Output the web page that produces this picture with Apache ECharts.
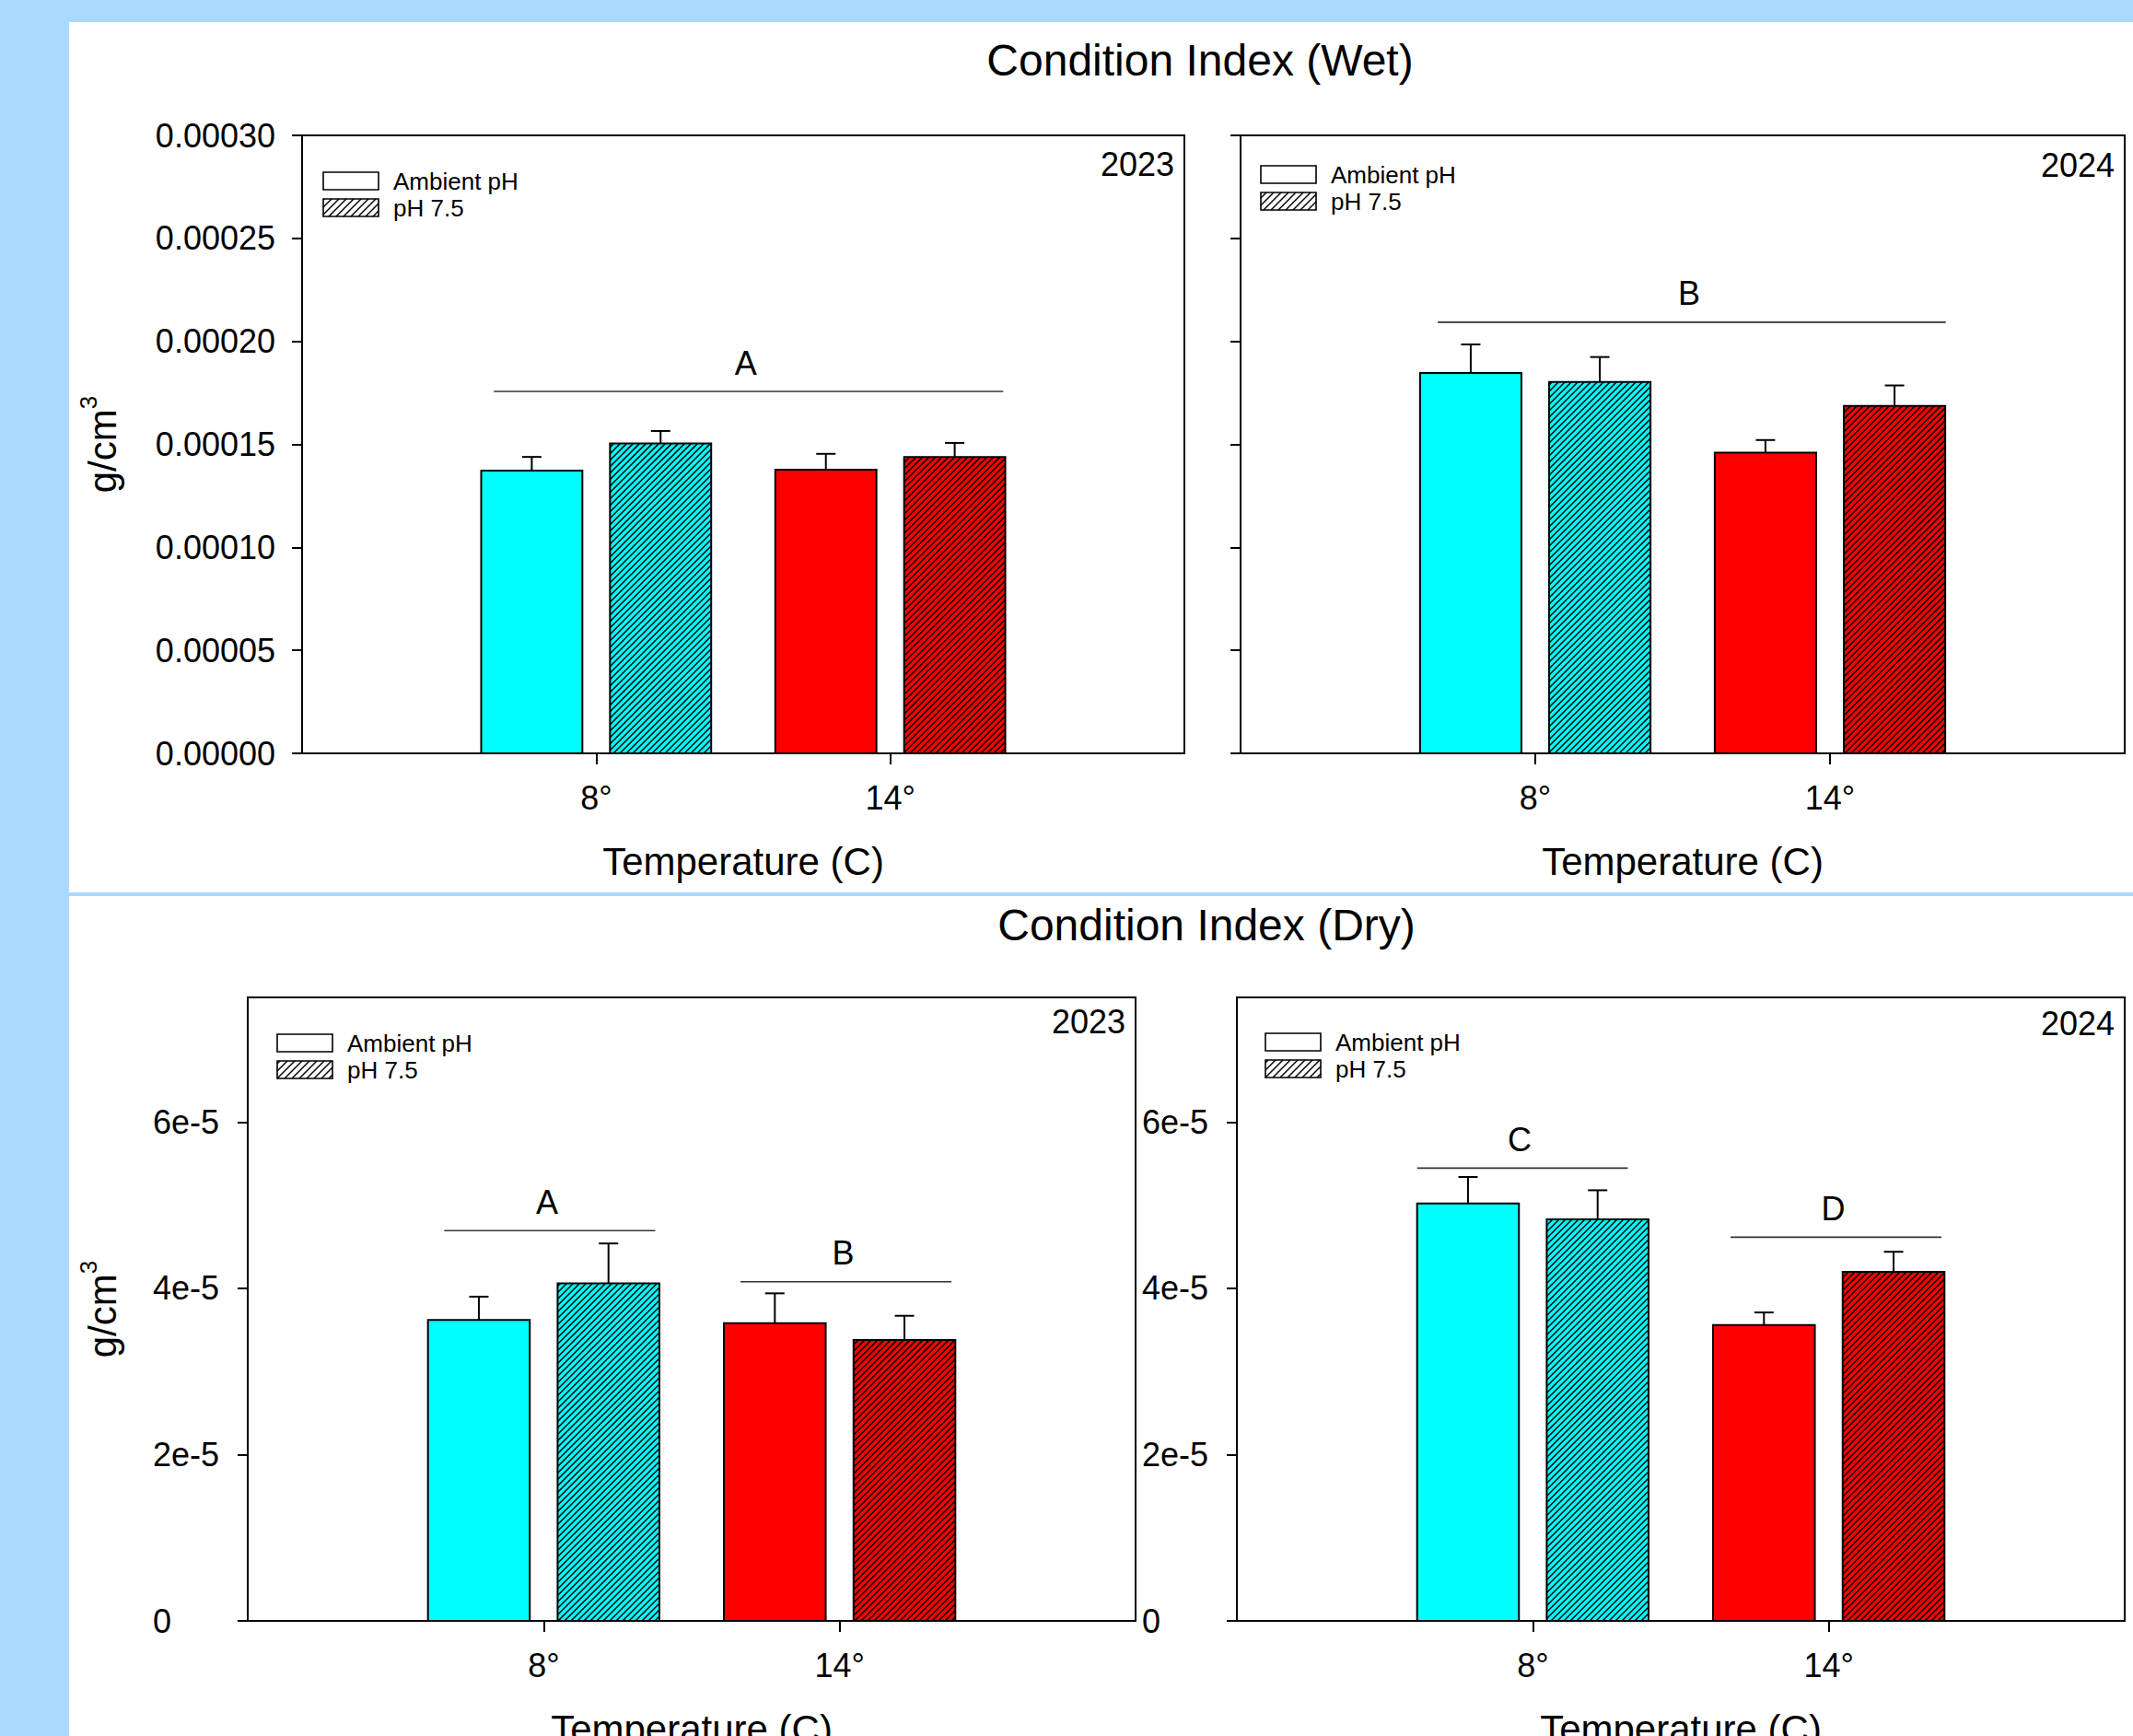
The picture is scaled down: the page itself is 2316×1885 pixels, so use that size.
<!DOCTYPE html>
<html>
<head>
<meta charset="utf-8">
<script src="https://cdn.jsdelivr.net/npm/echarts@6.0.0/dist/echarts.min.js"></script>
<style>
html, body { margin:0; padding:0; background:#a9d9fe; overflow:hidden; }
.panel { position:absolute; background:#ffffff; }
#chart { position:absolute; left:0; top:0; width:2316px; height:1885px; }
</style>
</head>
<body>
<div class="panel" style="left:75px;top:24px;width:2241px;height:945px;"></div>
<div class="panel" style="left:75px;top:973px;width:2241px;height:912px;"></div>
<div id="chart"></div>
<script>
// ---------------- DATA ----------------
const temperatures = ['8°', '14°'];
const treatments = ['Ambient pH', 'pH 7.5'];

const wetTicks = [0, 0.00005, 0.0001, 0.00015, 0.0002, 0.00025, 0.0003];
const wetTickLabels = ['0.00000', '0.00005', '0.00010', '0.00015', '0.00020', '0.00025', '0.00030'];
const dryTicks = [0, 0.00002, 0.00004, 0.00006];
const dryTickLabels = ['0', '2e-5', '4e-5', '6e-5'];

// order of each array: [8° Ambient pH, 8° pH 7.5, 14° Ambient pH, 14° pH 7.5]
const wet2023Mean = [0.0001373, 0.0001504, 0.0001377, 0.0001439];
const wet2023SE   = [0.0000066, 0.0000061, 0.0000077, 0.0000068];
const wet2024Mean = [0.0001847, 0.0001803, 0.0001460, 0.0001687];
const wet2024SE   = [0.0000138, 0.0000121, 0.0000061, 0.0000099];
const dry2023Mean = [0.0000362, 0.0000406, 0.0000358, 0.0000338];
const dry2023SE   = [0.0000028, 0.0000048, 0.0000036, 0.0000029];
const dry2024Mean = [0.0000502, 0.0000483, 0.0000356, 0.0000420];
const dry2024SE   = [0.0000032, 0.0000035, 0.0000015, 0.0000024];

// significance groups: letter, line value, span on the temperature axis (8° = 1, 14° = 2)
const wet2023Letters = ['A'];
const wet2023LetterY = [0.0001757];
const wet2023LetterSpan = [[0.652, 2.384]];
const wet2024Letters = ['B'];
const wet2024LetterY = [0.0002093];
const wet2024LetterSpan = [[0.669, 2.393]];
const dry2023Letters = ['A', 'B'];
const dry2023LetterY = [0.00004695, 0.0000408];
const dry2023LetterSpan = [[0.664, 1.377], [1.665, 2.378]];
const dry2024Letters = ['C', 'D'];
const dry2024LetterY = [0.00005446, 0.00004616];
const dry2024LetterSpan = [[0.609, 1.321], [1.668, 2.381]];

// ---------------- STYLE / LAYOUT ----------------
const FONT = '"Liberation Sans", Arial, Helvetica, sans-serif';
const tempColors = ['#00ffff', '#ff0000'];
const BAR_W_U = 0.344;   // bar width in axis units
const GAP_U = 0.094;     // gap between paired bars in axis units
const HATCH_P = 7;
const HATCH_W = 1.5;

function hatchSegs(x1, y1, x2, y2, P) {
  const segs = [];
  const kStart = Math.ceil((x1 + y1) / P), kEnd = Math.floor((x2 + y2) / P);
  for (let k = kStart; k <= kEnd; k++) {
    const c = k * P;
    const xs = Math.max(x1, c - y2), xe = Math.min(x2, c - y1);
    if (xe - xs > 0.3) segs.push([xs, c - xs, xe, c - xe]);
  }
  return segs;
}

function barRender(params, api) {
  const xCat = api.value(0), t = api.value(1), mean = api.value(2), se = api.value(3), ti = api.value(4);
  const unit = api.size([1, 0])[0];
  const bw = unit * BAR_W_U, gap = unit * GAP_U;
  const c0 = api.coord([xCat, 0]);
  const cx = c0[0] + (t === 0 ? -1 : 1) * (gap / 2 + bw / 2);
  const x1 = cx - bw / 2, x2 = cx + bw / 2;
  const yBase = c0[1];
  const yTop = api.coord([xCat, mean])[1];
  const yErr = api.coord([xCat, mean + se])[1];
  const children = [];
  children.push({type: 'rect', shape: {x: x1, y: yTop, width: bw, height: yBase - yTop},
    style: {fill: tempColors[ti], stroke: null}});
  if (t === 1) {
    hatchSegs(x1, yTop, x2, yBase, HATCH_P).forEach(s => children.push({
      type: 'line', shape: {x1: s[0], y1: s[1], x2: s[2], y2: s[3]},
      style: {stroke: '#000', lineWidth: HATCH_W, fill: null}}));
  }
  children.push({type: 'rect', shape: {x: x1, y: yTop, width: bw, height: yBase - yTop},
    style: {fill: 'none', stroke: '#000', lineWidth: 2}});
  children.push({type: 'line', shape: {x1: cx, y1: yTop, x2: cx, y2: yErr},
    style: {stroke: '#000', lineWidth: 2, fill: null}});
  children.push({type: 'line', shape: {x1: cx - 10.5, y1: yErr, x2: cx + 10.5, y2: yErr},
    style: {stroke: '#000', lineWidth: 2, fill: null}});
  return {type: 'group', children};
}

function makeLetterRender(letters) {
  return function (params, api) {
    const from = api.value(0), to = api.value(1), y = api.value(2);
    const p1 = api.coord([from, y]), p2 = api.coord([to, y]);
    return {type: 'group', children: [
      {type: 'line', shape: {x1: p1[0], y1: p1[1], x2: p2[0], y2: p2[1]},
        style: {stroke: '#333', lineWidth: 1.6, fill: null}},
      {type: 'text', x: (p1[0] + p2[0]) / 2 - 3, y: p1[1] - 31,
        style: {text: letters[params.dataIndex], font: '36px ' + FONT, fill: '#000',
          align: 'center', verticalAlign: 'middle', textAlign: 'center', textVerticalAlign: 'middle'}}
    ]};
  };
}

const panels = [
  {grid: {left: 328, top: 147, width: 958, height: 671}, yMax: 0.0003, ticks: wetTicks, tickLabels: wetTickLabels,
   showLabels: true, labelAlign: 'right', labelMargin: 29, showName: true, nameGap: 189, mean: wet2023Mean, se: wet2023SE,
   letters: wet2023Letters, letterY: wet2023LetterY, spans: wet2023LetterSpan, year: '2023', legend: [23, 40], yearDy: 31},
  {grid: {left: 1347, top: 147, width: 960, height: 671}, yMax: 0.0003, ticks: wetTicks, tickLabels: wetTickLabels,
   showLabels: false, labelAlign: 'right', labelMargin: 29, showName: false, nameGap: 189, mean: wet2024Mean, se: wet2024SE,
   letters: wet2024Letters, letterY: wet2024LetterY, spans: wet2024LetterSpan, year: '2024', legend: [22, 33], yearDy: 32},
  {grid: {left: 269, top: 1083, width: 964, height: 677}, yMax: 0.000075, ticks: dryTicks, tickLabels: dryTickLabels,
   showLabels: true, labelAlign: 'left', labelMargin: 103, showName: true, nameGap: 130, mean: dry2023Mean, se: dry2023SE,
   letters: dry2023Letters, letterY: dry2023LetterY, spans: dry2023LetterSpan, year: '2023', legend: [32, 40], yearDy: 26},
  {grid: {left: 1343, top: 1083, width: 964, height: 677}, yMax: 0.000075, ticks: dryTicks, tickLabels: dryTickLabels,
   showLabels: true, labelAlign: 'left', labelMargin: 103, showName: false, nameGap: 130, mean: dry2024Mean, se: dry2024SE,
   letters: dry2024Letters, letterY: dry2024LetterY, spans: dry2024LetterSpan, year: '2024', legend: [31, 39], yearDy: 28}
];

const grids = [], xAxes = [], yAxes = [], series = [], graphics = [];

graphics.push({type: 'text', x: 1303, y: 65, z: 10,
  style: {text: 'Condition Index (Wet)', font: '48px ' + FONT, fill: '#000',
    align: 'center', verticalAlign: 'middle', textAlign: 'center', textVerticalAlign: 'middle'}});
graphics.push({type: 'text', x: 1310, y: 1004, z: 10,
  style: {text: 'Condition Index (Dry)', font: '48px ' + FONT, fill: '#000',
    align: 'center', verticalAlign: 'middle', textAlign: 'center', textVerticalAlign: 'middle'}});

panels.forEach((p, i) => {
  const g = p.grid;
  grids.push({left: g.left, top: g.top, width: g.width, height: g.height, show: true,
    borderColor: '#000', borderWidth: 2, backgroundColor: 'transparent',
    containLabel: false, outerBoundsMode: 'none'});
  xAxes.push({
    gridIndex: i, type: 'value', min: 0, max: 3, interval: 1,
    axisLine: {show: true, onZero: false, lineStyle: {color: '#000', width: 2}},
    axisTick: {show: true, length: 12, customValues: [1, 2], lineStyle: {color: '#000', width: 2}},
    axisLabel: {show: true, customValues: [1, 2], margin: 30, fontSize: 36, fontFamily: FONT, color: '#000',
      formatter: v => temperatures[Math.round(v) - 1] || ''},
    splitLine: {show: false},
    name: 'Temperature (C)', nameLocation: 'middle', nameGap: 96,
    nameTextStyle: {fontSize: 42, fontFamily: FONT, color: '#000'}
  });
  const ticks = p.ticks, tl = p.tickLabels;
  yAxes.push({
    gridIndex: i, type: 'value', min: 0, max: p.yMax,
    axisLine: {show: true, onZero: false, lineStyle: {color: '#000', width: 2}},
    axisTick: {show: true, length: 11, customValues: ticks, lineStyle: {color: '#000', width: 2}},
    axisLabel: {show: p.showLabels, customValues: ticks, margin: p.labelMargin, align: p.labelAlign,
      fontSize: 36, fontFamily: FONT, color: '#000',
      formatter: v => { const k = ticks.findIndex(t => Math.abs(t - v) < 1e-12); return k >= 0 ? tl[k] : ''; }},
    splitLine: {show: false},
    name: p.showName ? '{a|g/cm}{b|3}' : '', nameLocation: 'middle', nameRotate: 90, nameGap: p.nameGap,
    nameTextStyle: {rich: {
      a: {fontSize: 42, fontFamily: FONT, color: '#000', lineHeight: 56},
      b: {fontSize: 26, fontFamily: FONT, color: '#000', lineHeight: 22, verticalAlign: 'top'}
    }}
  });
  const barData = p.mean.map((m, k) => [k < 2 ? 1 : 2, k % 2, m, p.se[k], k < 2 ? 0 : 1]);
  series.push({type: 'custom', name: 'bars' + i, xAxisIndex: i, yAxisIndex: i, renderItem: barRender,
    data: barData, encode: {x: 0, y: 2}, z: 3, silent: true, clip: false});
  const letterData = p.letters.map((l, k) => [p.spans[k][0], p.spans[k][1], p.letterY[k]]);
  series.push({type: 'custom', name: 'letters' + i, xAxisIndex: i, yAxisIndex: i,
    renderItem: makeLetterRender(p.letters), data: letterData, encode: {x: [0, 1], y: 2}, z: 4, silent: true, clip: false});

  // year label
  graphics.push({type: 'text', x: g.left + g.width - 11, y: g.top + p.yearDy, z: 10,
    style: {text: p.year, font: '36px ' + FONT, fill: '#000',
      align: 'right', verticalAlign: 'middle', textAlign: 'right', textVerticalAlign: 'middle'}});
  // legend
  const lx = g.left + p.legend[0], ly = g.top + p.legend[1];
  const bw = 60, bh = 19, step = 29;
  treatments.forEach((name, k) => {
    const by = ly + k * step;
    graphics.push({type: 'rect', z: 10, shape: {x: lx, y: by, width: bw, height: bh},
      style: {fill: '#fff', stroke: null}});
    if (k === 1) {
      hatchSegs(lx, by, lx + bw, by + bh, 8).forEach(s => graphics.push({type: 'line', z: 10,
        shape: {x1: s[0], y1: s[1], x2: s[2], y2: s[3]}, style: {stroke: '#000', lineWidth: 1.4}}));
    }
    graphics.push({type: 'rect', z: 10, shape: {x: lx, y: by, width: bw, height: bh},
      style: {fill: 'none', stroke: '#000', lineWidth: 1.6}});
    graphics.push({type: 'text', z: 10, x: lx + bw + 16, y: by + bh / 2,
      style: {text: name, font: '26px ' + FONT, fill: '#000',
        align: 'left', verticalAlign: 'middle', textAlign: 'left', textVerticalAlign: 'middle'}});
  });
});

const chart = echarts.init(document.getElementById('chart'), null, {renderer: 'svg', width: 2316, height: 1885});
chart.setOption({
  animation: false,
  backgroundColor: 'transparent',
  grid: grids,
  xAxis: xAxes,
  yAxis: yAxes,
  series: series,
  graphic: graphics
});
</script>
</body>
</html>
